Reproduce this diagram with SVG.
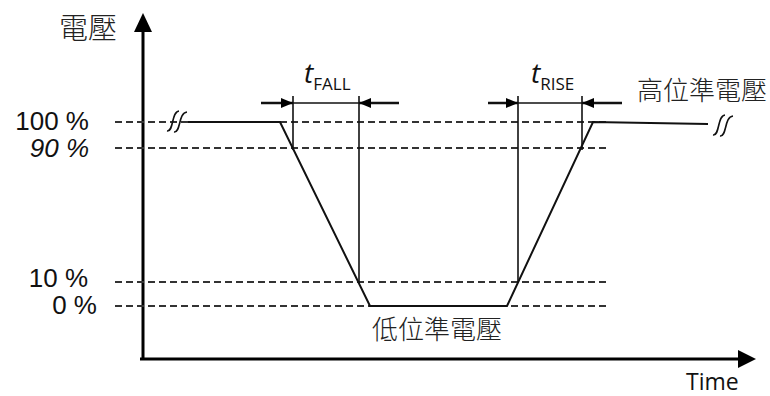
<svg xmlns="http://www.w3.org/2000/svg" width="770" height="396" viewBox="0 0 770 396">
<style>
.lbl{font-family:"Liberation Sans",Arial,sans-serif;font-size:26px;fill:#111}
.cjk{font-family:"Noto Sans CJK TC","Noto Sans CJK SC",sans-serif;font-weight:300;fill:#222}
.os{font-family:"Open Sans","Noto Sans",sans-serif;fill:#111}
.dash{stroke:#333;stroke-width:2;stroke-dasharray:7 4;fill:none}
.wave{stroke:#111;stroke-width:2;fill:none}
.thin{stroke:#111;stroke-width:1.6;fill:none}
.dim{stroke:#111;stroke-width:2.5;fill:none}
.axis{stroke:#000;stroke-width:3;fill:none}
</style>
<defs>
<marker id="ah" viewBox="0 0 12 10" refX="12" refY="5" markerWidth="12" markerHeight="10" markerUnits="userSpaceOnUse" orient="auto">
<path d="M0,0 L12,5 L0,10 Z" fill="#000"/>
</marker>
</defs>
<g id="axes">
<line class="axis" x1="143" y1="359" x2="143" y2="30"/>
<path d="M134,32 L143,13 L152,32 Z" fill="#000"/>
<line class="axis" x1="140" y1="359" x2="740" y2="359"/>
<path d="M738,350 L756,359 L738,368 Z" fill="#000"/>
<text class="cjk" x="59" y="39" font-size="29">電壓</text>
<text class="os" x="686" y="390" font-size="23">Time</text>
</g>
<g id="levels">
<line class="dash" x1="115" y1="122" x2="610" y2="122"/>
<line class="dash" x1="115" y1="148" x2="610" y2="148"/>
<line class="dash" x1="115" y1="282" x2="610" y2="282"/>
<line class="dash" x1="115" y1="306" x2="610" y2="306"/>
<text class="lbl" x="89" y="130" text-anchor="end">100 %</text>
<text class="lbl" x="89" y="157" text-anchor="end" font-style="italic">90 %</text>
<text class="lbl" x="88" y="287" text-anchor="end">10 %</text>
<text class="lbl" x="97" y="314" text-anchor="end">0 %</text>
</g>
<g id="waveform">
<path class="thin" d="M167,131 C174,132 171,112 179,111"/>
<path class="thin" d="M174,132 C181,133 178,113 187,112"/>
<path class="wave" d="M188,122 L280,122 L370,306 L507,306 L593,122 L708,124"/>
<path class="thin" d="M713,135 C720,136 717,116 725,115"/>
<path class="thin" d="M720,136 C727,137 724,117 733,116"/>
<text class="cjk" x="637" y="100" font-size="26">高位準電壓</text>
<text class="cjk" x="372" y="339" font-size="26">低位準電壓</text>
</g>
<g id="connectors">
<line class="thin" x1="293" y1="96" x2="293" y2="150"/>
<line class="thin" x1="359" y1="96" x2="359" y2="283"/>
<line class="thin" x1="293" y1="103" x2="359" y2="103"/>
<line class="dim" x1="261" y1="103" x2="293" y2="103" marker-end="url(#ah)"/>
<line class="dim" x1="399" y1="103" x2="359" y2="103" marker-end="url(#ah)"/>
<line class="thin" x1="518" y1="96" x2="518" y2="283"/>
<line class="thin" x1="582" y1="96" x2="582" y2="150"/>
<line class="thin" x1="518" y1="103" x2="582" y2="103"/>
<line class="dim" x1="488" y1="103" x2="518" y2="103" marker-end="url(#ah)"/>
<line class="dim" x1="622" y1="103" x2="582" y2="103" marker-end="url(#ah)"/>
</g>
<g id="tfall">
<text class="os" x="304" y="83" font-size="28" font-style="italic">t<tspan font-size="17" font-style="normal" dy="7">FALL</tspan></text>
</g>
<g id="trise">
<text class="os" x="531" y="83" font-size="28" font-style="italic">t<tspan font-size="17" font-style="normal" dy="7">RISE</tspan></text>
</g>
</svg>
